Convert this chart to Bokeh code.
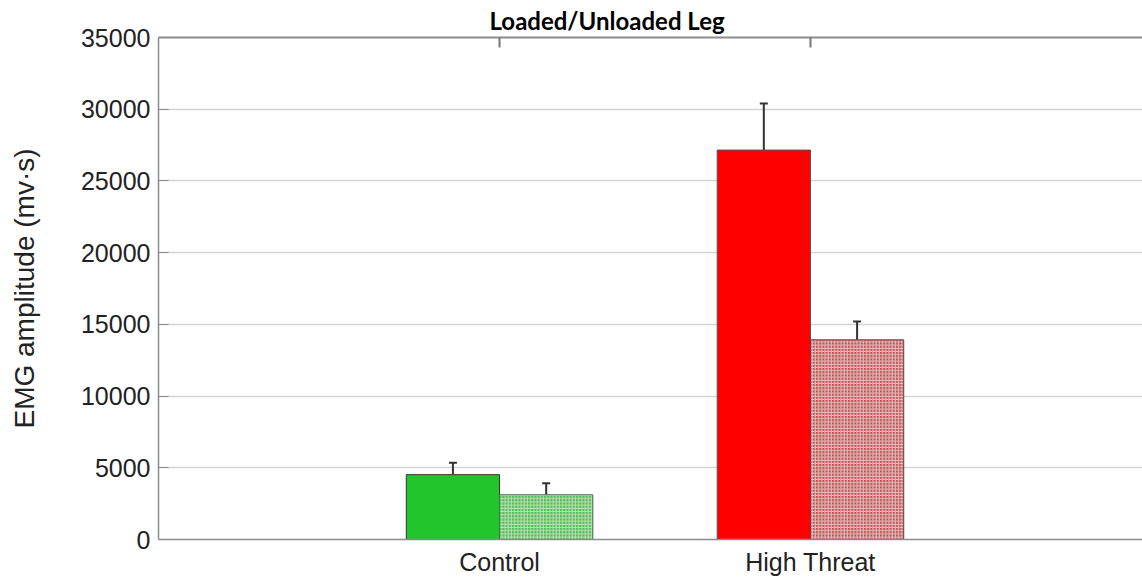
from bokeh.plotting import figure
from bokeh.models import (ColumnDataSource, FixedTicker, LinearAxis, Range1d,
                          Whisker, Title, TeeHead)
from bokeh.embed import file_html
from bokeh.resources import INLINE

# Mean EMG amplitude per condition, loaded vs. unloaded leg
conditions = ["Control", "High Threat"]
loaded = [4520, 27150]
loaded_err = [830, 3250]
unloaded = [3120, 13920]
unloaded_err = [800, 1280]

loaded_colors = ["#22c42b", "#ff0000"]
loaded_edges = ["#333333", "#555555"]
unloaded_colors = ["#55b955", "#bf5a5a"]
unloaded_edges = ["#4d6e4d", "#6e3c3c"]

positions = [i + 1 for i in range(len(conditions))]
bar_w = 0.3

src_loaded = ColumnDataSource(dict(
    x=[p - bar_w / 2 for p in positions], top=loaded,
    upper=[v + e for v, e in zip(loaded, loaded_err)],
    color=loaded_colors, edge=loaded_edges))
src_unloaded = ColumnDataSource(dict(
    x=[p + bar_w / 2 for p in positions], top=unloaded,
    upper=[v + e for v, e in zip(unloaded, unloaded_err)],
    color=unloaded_colors, edge=unloaded_edges))

p = figure(width=1142, height=578, output_backend="svg", toolbar_location=None,
           x_range=Range1d(1 - 1.097, 2 + 1.068), y_range=Range1d(0, 35000),
           min_border_left=158, min_border_right=0, min_border_bottom=38,
           min_border_top=0, outline_line_color=None)

axis_color = "#8c8c8c"

# bottom category axis
bottom = p.below[0]
bottom.ticker = FixedTicker(ticks=positions)
bottom.major_label_overrides = {pos: c for pos, c in zip(positions, conditions)}
bottom.major_tick_line_color = None
bottom.minor_tick_line_color = None
bottom.axis_line_color = axis_color
bottom.axis_line_width = 1.5
bottom.major_label_text_font = "Liberation Sans"
bottom.major_label_text_font_size = "25px"
bottom.major_label_text_color = "#222222"
bottom.major_label_standoff = 2

# top frame edge with inward category ticks
top_axis = LinearAxis(ticker=FixedTicker(ticks=positions),
                      major_tick_in=10, major_tick_out=0,
                      major_tick_line_color="#777777", major_tick_line_width=2,
                      minor_tick_line_color=None,
                      axis_line_color=axis_color, axis_line_width=2,
                      major_label_overrides={pos: "" for pos in positions},
                      major_label_standoff=0)
p.add_layout(top_axis, "above")

p.add_layout(Title(text="Loaded/Unloaded Leg", text_font="Lato",
                   text_font_style="bold", text_font_size="24px",
                   text_color="#000000",
                   align="left", offset=331, standoff=6), "above")

p.vbar(x="x", top="top", width=bar_w, bottom=0, source=src_loaded,
       fill_color="color", line_color="edge", line_width=1)
p.vbar(x="x", top="top", width=bar_w, bottom=0, source=src_unloaded,
       fill_color="color", line_color="edge", line_width=1,
       hatch_pattern="+", hatch_color="white", hatch_scale=3.2,
       hatch_weight=1, hatch_alpha=0.6)

for src in (src_loaded, src_unloaded):
    p.add_layout(Whisker(base="x", upper="upper", lower="top", source=src,
                         line_color="#333333", line_width=2,
                         upper_head=TeeHead(size=8, line_color="#333333", line_width=2),
                         lower_head=None))

p.yaxis.ticker = FixedTicker(ticks=list(range(0, 35001, 5000)))
p.yaxis.major_tick_in = 10
p.yaxis.major_tick_out = 0
p.yaxis.minor_tick_line_color = None
p.yaxis.major_tick_line_color = axis_color
p.yaxis.axis_line_color = axis_color
p.yaxis.axis_line_width = 1.5
p.yaxis.major_label_text_font = "Liberation Sans"
p.yaxis.major_label_text_font_size = "25px"
p.yaxis.major_label_text_color = "#222222"
p.yaxis.major_label_standoff = 8
p.yaxis.axis_label = "EMG amplitude (mv·s)"
p.yaxis.axis_label_text_font = "Liberation Sans"
p.yaxis.axis_label_text_font_size = "28px"
p.yaxis.axis_label_text_font_style = "normal"
p.yaxis.axis_label_text_color = "#222222"
p.yaxis.axis_label_standoff = 38

p.xgrid.grid_line_color = None
p.ygrid.grid_line_color = "#d4d4d4"
p.ygrid.grid_line_width = 1.5

open("out.html", "w").write(file_html(p, INLINE))
